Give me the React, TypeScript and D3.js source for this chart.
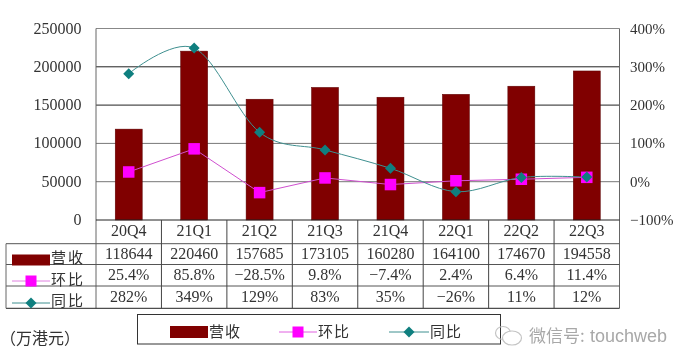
import React from "react";
import * as d3 from "d3";

const categories = ["20Q4", "21Q1", "21Q2", "21Q3", "21Q4", "22Q1", "22Q2", "22Q3"];
const revenue = [118644, 220460, 157685, 173105, 160280, 164100, 174670, 194558];
const qoq = [25.4, 85.8, -28.5, 9.8, -7.4, 2.4, 6.4, 11.4];
const yoy = [282, 349, 129, 83, 35, -26, 11, 12];
const qoqLabels = ["25.4%", "85.8%", "−28.5%", "9.8%", "−7.4%", "2.4%", "6.4%", "11.4%"];
const yoyLabels = ["282%", "349%", "129%", "83%", "35%", "−26%", "11%", "12%"];
const leftTicks = [0, 50000, 100000, 150000, 200000, 250000];
const rightTicks = [-100, 0, 100, 200, 300, 400];

const SERIF = "'Liberation Serif', serif";
const CJK = "'Noto Sans CJK SC', sans-serif";
const TEXT = "#333";

const plot = { l: 96, r: 619.5, t: 28.5, b: 220 };
const rows = [243.7, 264.5, 286, 308.3];
const tableLeft = 6;

const x = d3.scaleBand<string>().domain(categories).range([plot.l, plot.r]);
const yL = d3.scaleLinear().domain([0, 250000]).range([plot.b, plot.t]);
const yR = d3.scaleLinear().domain([-100, 400]).range([plot.b, plot.t]);
const cx = (c: string) => (x(c) as number) + x.bandwidth() / 2;

const qoqLine = d3.line<number>().x((_, i) => cx(categories[i])).y((d) => yR(d));
const yoyLine = d3
  .line<number>()
  .x((_, i) => cx(categories[i]))
  .y((d) => yR(d))
  .curve(d3.curveCatmullRom.alpha(0));

const Square = ({ x: px, y, s = 11.5 }: { x: number; y: number; s?: number }) => (
  <rect x={px - s / 2} y={y - s / 2} width={s} height={s} fill="#ff00ff" />
);
const Diamond = ({ x: px, y, r = 5.5 }: { x: number; y: number; r?: number }) => (
  <path d={`M${px},${y - r}L${px + r},${y}L${px},${y + r}L${px - r},${y}Z`} fill="#0f7f7f" />
);

const gridColor = (v: number) => (v >= 150000 ? "#222" : "#777");

export default function App() {
  const rowText = (labels: (string | number)[], i: number) =>
    labels.map((t, k) => (
      <text key={k} x={cx(categories[k])} y={rows[i] + 15.5} textAnchor="middle" fontFamily={SERIF} fontSize={16} fill={TEXT}>
        {t}
      </text>
    ));
  return (
    <svg width={696} height={356} style={{ position: "absolute", left: 0, top: 0, background: "#fff", filter: "blur(0.35px)" }}>
      {leftTicks.slice(1).map((v) => (
        <line key={v} x1={plot.l} x2={plot.r} y1={yL(v)} y2={yL(v)} stroke={v === 250000 ? "#888" : gridColor(v)} strokeWidth={1} />
      ))}
      <line x1={plot.l} x2={plot.l} y1={plot.t} y2={rows[3]} stroke="#666" />
      <line x1={plot.r} x2={plot.r} y1={plot.t} y2={rows[3]} stroke="#666" />
      {revenue.map((v, i) => (
        <rect key={i} x={cx(categories[i]) - 13.5} y={yL(v)} width={27} height={plot.b - yL(v)} fill="#800000" stroke="#5a0000" strokeWidth={0.5} />
      ))}
      <line x1={plot.l} x2={plot.r} y1={plot.b} y2={plot.b} stroke="#222" />
      <path d={qoqLine(qoq) as string} fill="none" stroke="#d050d0" strokeWidth={1} />
      <path d={yoyLine(yoy) as string} fill="none" stroke="#3f9090" strokeWidth={1} />
      {qoq.map((v, i) => (
        <Square key={i} x={cx(categories[i])} y={yR(v)} />
      ))}
      {yoy.map((v, i) => (
        <Diamond key={i} x={cx(categories[i])} y={yR(v)} />
      ))}

      {leftTicks.map((v) => (
        <text key={v} x={81.5} y={yL(v) + 5} textAnchor="end" fontFamily={SERIF} fontSize={16} fill={TEXT}>
          {v}
        </text>
      ))}
      {rightTicks.map((v) => (
        <text key={v} x={630} y={yR(v) + 5} fontFamily={SERIF} fontSize={15} fill={TEXT}>
          {v < 0 ? `−${-v}%` : `${v}%`}
        </text>
      ))}

      {categories.map((c) => (
        <text key={c} x={cx(c)} y={236} textAnchor="middle" fontFamily={SERIF} fontSize={16} fill={TEXT}>
          {c}
        </text>
      ))}
      {rows.map((r, i) => (
        <line key={i} x1={tableLeft} x2={plot.r} y1={r} y2={r} stroke={i === 3 ? "#222" : "#555"} />
      ))}
      <line x1={tableLeft} x2={tableLeft} y1={rows[0]} y2={rows[3]} stroke="#666" />
      {categories.slice(1).map((c) => (
        <line key={c} x1={x(c) as number} x2={x(c) as number} y1={plot.b} y2={rows[3]} stroke="#444" />
      ))}
      {rowText(revenue, 0)}
      {rowText(qoqLabels, 1)}
      {rowText(yoyLabels, 2)}

      <rect x={12} y={254.5} width={38} height={11} fill="#800000" />
      <text x={51} y={263} fontFamily={CJK} fontSize={15} letterSpacing={2} fill={TEXT}>营收</text>
      <line x1={12} x2={50} y1={281} y2={281} stroke="#e080e0" />
      <Square x={31} y={281} s={11} />
      <text x={51} y={285} fontFamily={CJK} fontSize={15} letterSpacing={2} fill={TEXT}>环比</text>
      <line x1={12} x2={50} y1={303} y2={303} stroke="#3f9090" />
      <Diamond x={31} y={303} />
      <text x={51} y={306} fontFamily={CJK} fontSize={15} letterSpacing={2} fill={TEXT}>同比</text>

      <text x={0} y={344} fontFamily={CJK} fontSize={16} fill={TEXT}>（万港元）</text>

      <rect x={137.5} y={314.5} width={363} height={29.5} fill="#fff" stroke="#333" />
      <rect x={170} y={326} width={38} height={12} fill="#800000" />
      <text x={209} y={337} fontFamily={CJK} fontSize={15} letterSpacing={1} fill={TEXT}>营收</text>
      <line x1={279} x2={317} y1={332} y2={332} stroke="#e060e0" />
      <Square x={298} y={332} s={11} />
      <text x={318} y={337} fontFamily={CJK} fontSize={15} letterSpacing={1} fill={TEXT}>环比</text>
      <line x1={389} x2={429} y1={332} y2={332} stroke="#3f9090" />
      <Diamond x={409} y={332} />
      <text x={430} y={337} fontFamily={CJK} fontSize={15} letterSpacing={1} fill={TEXT}>同比</text>

      <g fill="none" stroke="#c4c4c4" strokeWidth={1.2}>
        <ellipse cx={503} cy={333} rx={7.5} ry={6.5} />
        <ellipse cx={512} cy={338} rx={9.5} ry={7} fill="#fff" />
      </g>
      <text x={529} y={342} fontFamily={CJK} fontSize={17} fill="#a8a8a8">微信号:</text>
      <text x={590} y={342} fontFamily="'Liberation Sans', sans-serif" fontSize={18} fill="#a8a8a8">touchweb</text>
    </svg>
  );
}
